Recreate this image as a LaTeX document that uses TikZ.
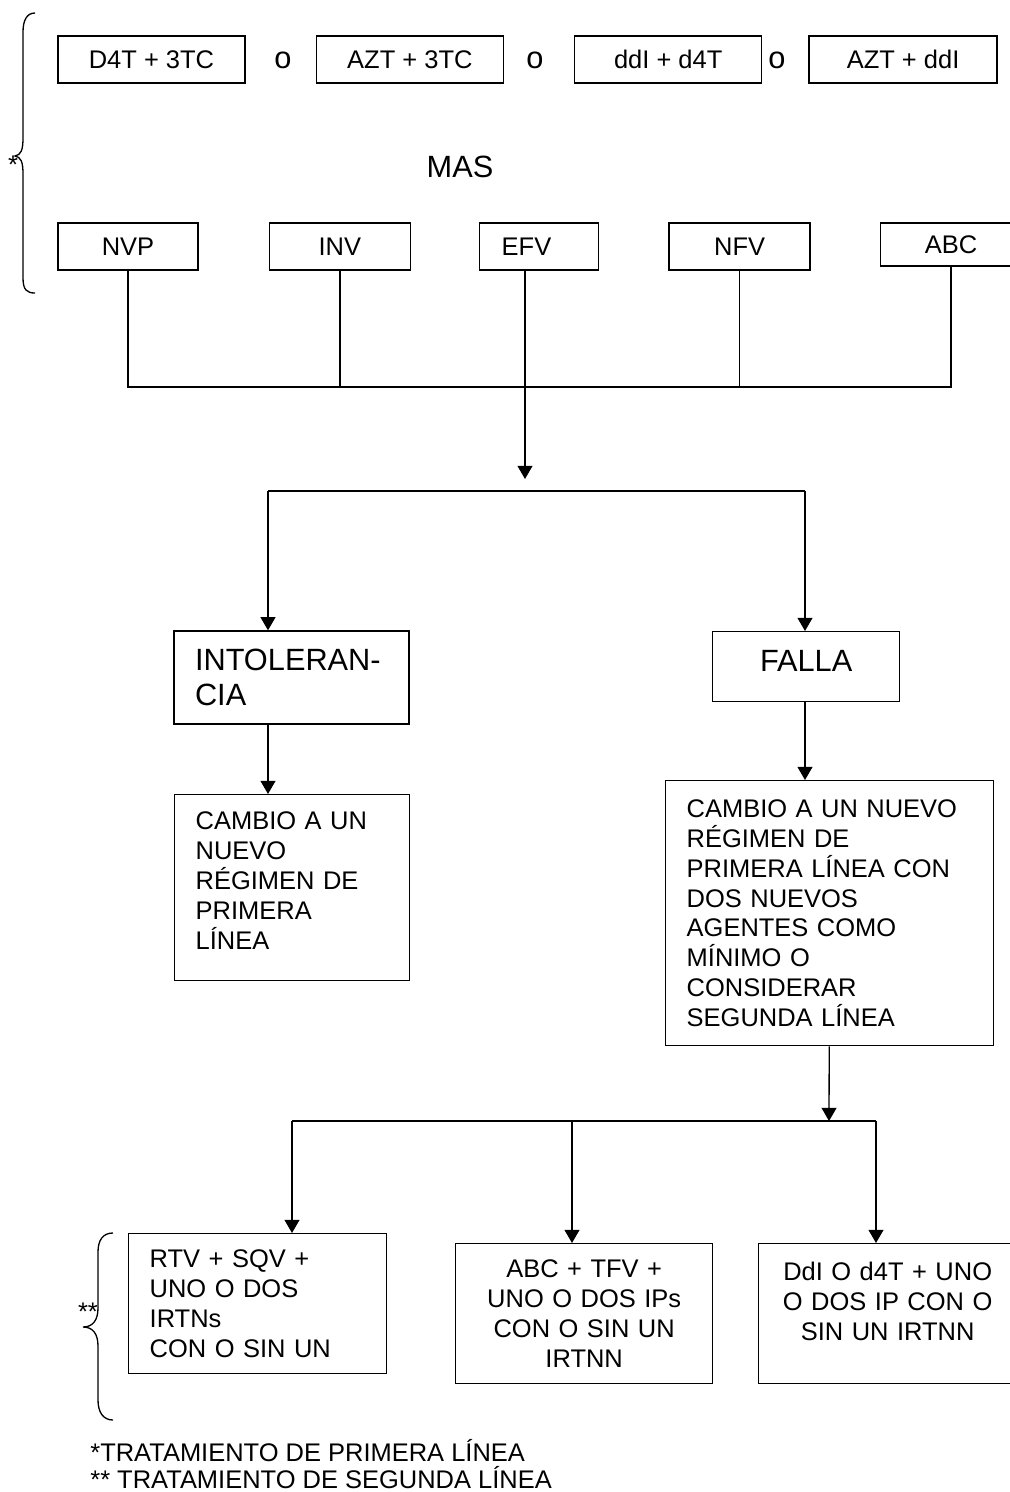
\documentclass[tikz,border=0pt]{standalone}
\usepackage{fontspec}
\setmainfont{Liberation Sans}
\usetikzlibrary{positioning}
\usetikzlibrary{arrows.meta}
\newcommand{\boxfont}{\fontsize{14.5}{17}\selectfont}
\newcommand{\bigfont}{\fontsize{17.5}{19.5}\selectfont}
\tikzstyle{drug} = [draw, line width=0.8pt, inner sep=0pt, minimum height=0.94cm, font=\boxfont]
\tikzstyle{stage} = [draw, line width=0.8pt, inner xsep=0.42cm, inner ysep=0pt, align=left, font=\bigfont]
\tikzstyle{regimen} = [draw, line width=0.8pt, inner xsep=0.42cm, inner ysep=0pt, font=\boxfont]

\begin{document}
\begin{tikzpicture}[x=0.02cm, y=-0.02cm,
  arr/.style={-{Triangle[length=7.5pt,width=8.5pt]}, line width=0.75pt},
  link/.style={line width=0.75pt}]
\useasboundingbox (0,0) rectangle (1009,1492);

% Define nodes
\node[drug, minimum width=3.74cm]                        (d4t)    at (151.5,59.5) {D4T + 3TC};
\node[drug, minimum width=3.74cm, right=1.4cm of d4t]    (azt3tc) {AZT + 3TC};
\node[drug, minimum width=3.74cm, right=1.4cm of azt3tc] (ddid4t) {ddI + d4T};
\node[drug, minimum width=3.76cm, right=0.92cm of ddid4t] (aztddi) {AZT + ddI};
\node[font=\bigfont, inner sep=0pt] (o1) at (283,60) {o};
\node[font=\bigfont, inner sep=0pt] (o2) at (535,60) {o};
\node[font=\bigfont, inner sep=0pt] (o3) at (777,60) {o};

\node[font=\bigfont, anchor=base] (mas) at (460,177) {MAS};

\node[drug, minimum width=2.8cm]                       (nvp) at (128,246.5) {NVP};
\node[drug, minimum width=2.82cm, right=1.4cm of nvp]  (inv) {INV};
\node[drug, text width=1.5cm, inner xsep=0.44cm, align=left, right=1.36cm of inv] (efv) {EFV};
\node[drug, minimum width=2.82cm, right=1.38cm of efv] (nfv) {NFV};
\node[drug, minimum width=2.82cm, minimum height=0.86cm, anchor=north west] (abc) at ([xshift=1.38cm]nfv.north east) {ABC};

\node[stage, text width=3.86cm, minimum height=1.86cm] (intol) at (291.5,677.5) {INTOLERAN-\\CIA};
\node[stage, minimum width=3.74cm, align=center, inner ysep=10.2pt, text height=12.5pt, text depth=6.8pt, anchor=north west] (falla) at (712,631) {FALLA};

\node[regimen, text width=3.86cm, align=left, inner ysep=9.6pt, text height=10.4pt, text depth=76.3pt, anchor=north west] (cambioI) at (174,794)
  {CAMBIO A UN\\NUEVO\\RÉGIMEN DE\\PRIMERA\\LÍNEA};
\node[regimen, text width=5.72cm, align=left, minimum height=5.3cm, anchor=north west] (cambioII) at (665,780)
  {CAMBIO A UN NUEVO\\RÉGIMEN DE\\PRIMERA LÍNEA CON\\DOS NUEVOS\\AGENTES COMO\\MÍNIMO O\\CONSIDERAR\\SEGUNDA LÍNEA};

\node[regimen, text width=4.32cm, align=left, minimum height=2.8cm, anchor=north west] (rtv) at (128,1233)
  {RTV + SQV +\\UNO O DOS\\IRTNs\\CON O SIN UN};
\node[regimen, text width=4.3cm, align=center, minimum height=2.8cm, anchor=north west] (abcreg) at (455,1243)
  {ABC + TFV +\\UNO O DOS IPs\\CON O SIN UN\\IRTNN};
\node[regimen, text width=4.5cm, inner xsep=0.33cm, align=center, inner ysep=10.8pt, text height=10.4pt, text depth=47.4pt, anchor=north west] (ddi) at (758,1243)
  {DdI O d4T + UNO\\O DOS IP CON O\\SIN UN IRTNN};

\node[font=\boxfont, anchor=base, inner sep=0pt] (star1) at (13,173) {*};
\node[font=\boxfont, anchor=base, inner sep=0pt] (star2) at (88,1320) {**};
\node[font=\boxfont, anchor=base west, inner sep=0pt] (note1) at (90,1461) {*TRATAMIENTO DE PRIMERA LÍNEA};
\node[font=\boxfont, anchor=base west, inner sep=0pt] (note2) at (90,1488) {** TRATAMIENTO DE SEGUNDA LÍNEA};

\coordinate (bus)   at (525,387);
\coordinate (tipA)  at (525,479);
\coordinate (forkL) at (268,491);
\coordinate (forkR) at (805,491);
\coordinate (bus2)  at (829,1121);
\coordinate (c1)    at (292,1121);
\coordinate (c2)    at (572,1121);
\coordinate (c3)    at (876,1121);

% Edges
\draw[link] (nvp) -- (nvp |- bus) -- (abc |- bus) -- (abc);%
\draw[link] (inv) -- (inv |- bus);%
\draw[link] (nfv) -- (nfv |- bus);%
\draw[arr]  (efv.south -| bus) -- (tipA);%
\draw[link] (forkL) -- (forkR);%
\draw[arr]  (forkL) -- (forkL |- intol.north);%
\draw[arr]  (forkR) -- (forkR |- falla.north);%
\draw[arr]  (intol.south -| forkL) -- (forkL |- cambioI.north);%
\draw[arr]  (falla.south -| forkR) -- (forkR |- cambioII.north);%
\draw[arr]  (cambioII) -- (bus2);%
\draw[link] (c1) -- (c3);%
\draw[arr]  (c1) -- (c1 |- rtv.north);%
\draw[arr]  (c2) -- (c2 |- abcreg.north);%
\draw[arr]  (c3) -- (c3 |- ddi.north);%

% Braces
\draw[link] (35,13) .. controls (27,13) and (23,20) .. (23,32) -- (23,138)
  .. controls (23,150) and (21,155) .. (15,156) .. controls (21,157) and (23,162) .. (23,174)
  -- (23,278) .. controls (23,290) and (27,293) .. (35,293);
\draw[link] (113,1233) .. controls (103,1233) and (98,1240) .. (98,1252) -- (98,1308)
  .. controls (98,1320) and (93,1327) .. (83,1327) .. controls (93,1327) and (98,1334) .. (98,1346)
  -- (98,1400) .. controls (98,1412) and (103,1420) .. (113,1420);
\end{tikzpicture}
\end{document}
